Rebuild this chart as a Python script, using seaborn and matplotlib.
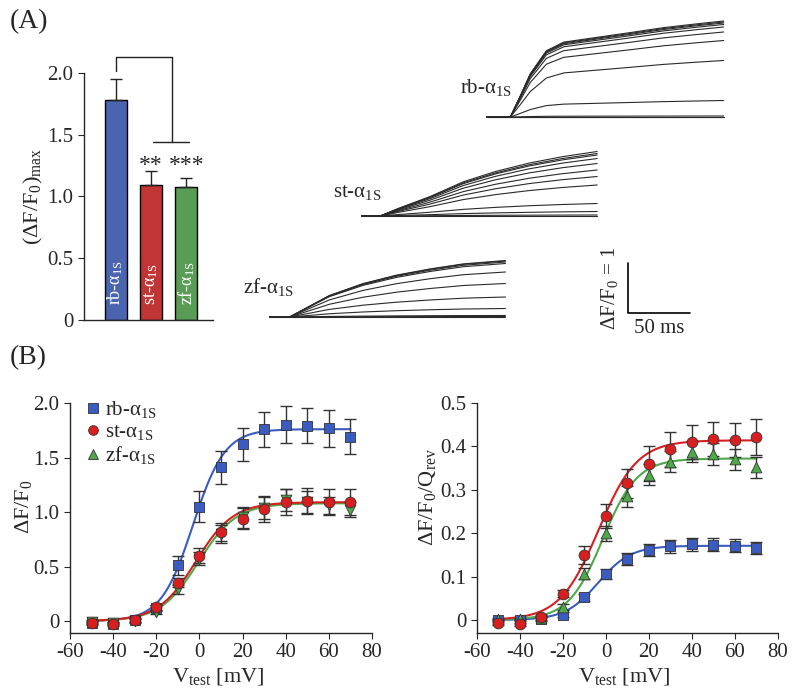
import matplotlib
matplotlib.use('Agg')
import matplotlib.pyplot as plt
import seaborn as sns
import numpy as np
import pandas as pd
from matplotlib.lines import Line2D

# ---- data ----
groups = ["rb", "st", "zf"]
labels = ["rb-α$_{\\mathrm{1S}}$", "st-α$_{\\mathrm{1S}}$", "zf-α$_{\\mathrm{1S}}$"]
colors = ["#3a5cc0", "#d81e1e", "#4fa84a"]

# panel A bars
bar_max = [1.78, 1.09, 1.08]
bar_sem = [0.17, 0.12, 0.07]

# panel A traces: shape of the largest trace (time in ms from trace start) and amplitudes
rb_t = [0, 19, 27, 35, 48, 62, 89, 116, 142, 169, 191]
rb_s = [0, 0, 0.22, 0.45, 0.69, 0.78, 0.83, 0.88, 0.93, 0.97, 1.0]
rb_amp = [0, 0, 0.02, 0.33, 1.13, 1.53, 1.7, 1.8, 1.85, 1.88, 1.9, 1.92]
st_t = [0, 15, 30, 55, 82, 108, 135, 162, 190]
st_s = [0, 0, 0.12, 0.3, 0.53, 0.69, 0.82, 0.92, 1.0]
st_amp = [1.29, 1.25, 1.22, 1.15, 1.05, 0.92, 0.79, 0.62, 0.25, 0.09, 0.02, 0]
zf_t = [0, 16, 48, 75, 102, 129, 156, 190]
zf_s = [0, 0, 0.38, 0.59, 0.74, 0.85, 0.94, 1.0]
zf_amp = [1.13, 1.12, 1.10, 1.07, 0.9, 0.67, 0.4, 0.17, 0.03, 0.01, 0]

# panel B
vtest = [-50, -40, -30, -20, -10, 0, 10, 20, 30, 40, 50, 60, 70]
rb_df = [-0.015, -0.03, 0.01, 0.12, 0.51, 1.05, 1.41, 1.62, 1.76, 1.80, 1.79, 1.77, 1.69]
rb_df_err = [0.02, 0.02, 0.02, 0.03, 0.09, 0.14, 0.15, 0.15, 0.16, 0.17, 0.16, 0.17, 0.16]
st_df = [-0.015, -0.03, 0.01, 0.125, 0.35, 0.6, 0.815, 0.94, 1.03, 1.09, 1.1, 1.09, 1.09]
st_df_err = [0.01, 0.01, 0.02, 0.02, 0.04, 0.07, 0.08, 0.1, 0.12, 0.12, 0.12, 0.12, 0.12]
zf_df = [-0.01, -0.02, 0.0, 0.08, 0.29, 0.57, 0.8, 0.95, 1.04, 1.11, 1.09, 1.06, 1.02]
zf_df_err = [0.01, 0.01, 0.02, 0.02, 0.04, 0.06, 0.08, 0.1, 0.1, 0.1, 0.1, 0.08, 0.07]

rb_q = [0.0, 0.0, 0.002, 0.012, 0.052, 0.106, 0.14, 0.162, 0.17, 0.175, 0.173, 0.171, 0.166]
rb_q_err = [0.003, 0.003, 0.004, 0.006, 0.008, 0.012, 0.014, 0.014, 0.015, 0.015, 0.015, 0.015, 0.014]
st_q = [-0.008, -0.01, 0.008, 0.061, 0.15, 0.24, 0.315, 0.36, 0.393, 0.41, 0.417, 0.415, 0.422]
st_q_err = [0.003, 0.003, 0.004, 0.008, 0.02, 0.027, 0.034, 0.04, 0.04, 0.04, 0.04, 0.04, 0.042]
zf_q = [0.002, 0.002, 0.005, 0.03, 0.107, 0.2, 0.285, 0.335, 0.365, 0.388, 0.382, 0.37, 0.352]
zf_q_err = [0.003, 0.003, 0.004, 0.006, 0.012, 0.017, 0.024, 0.025, 0.025, 0.025, 0.025, 0.024, 0.024]

# Boltzmann fit parameters (Amax, V50, k)
fit_df = {"rb": (1.76, -3.0, 7.4), "st": (1.09, -1.7, 8.7), "zf": (1.08, -0.5, 8.8)}
fit_q = {"rb": (0.171, -3.7, 7.6), "st": (0.414, -3.5, 9.0), "zf": (0.372, -1.5, 8.0)}

# ---- style ----
sns.set_style("ticks")
plt.rcParams['font.family'] = ['Liberation Serif', 'DejaVu Serif']
plt.rcParams['mathtext.fontset'] = 'custom'
plt.rcParams['mathtext.rm'] = 'Liberation Serif'
plt.rcParams['mathtext.it'] = 'Liberation Serif:italic'
plt.rcParams['axes.unicode_minus'] = False
plt.rcParams['axes.linewidth'] = 1.0
plt.rcParams['xtick.major.size'] = 4
plt.rcParams['ytick.major.size'] = 4
plt.rcParams['xtick.direction'] = 'out'
plt.rcParams['ytick.direction'] = 'out'

TICK = 15
LAB = 16

fig = plt.figure(figsize=(8, 6.98), dpi=100)
W, H = 800, 698


def add_ax(x0, y0, x1, y1):
    return fig.add_axes([x0 / W, 1 - y1 / H, (x1 - x0) / W, (y1 - y0) / H])


# ---- (A) bars ----
ax_bar = add_ax(84, 73, 213, 320)
bar_data = pd.DataFrame({"group": groups, "value": bar_max})
sns.barplot(data=bar_data, x="group", y="value", hue="group", palette=colors,
            width=0.62, edgecolor="black", linewidth=1.0, legend=False, ax=ax_bar)
ax_bar.errorbar(range(3), bar_max, yerr=[np.zeros(3), bar_sem], fmt='none',
                ecolor='#222222', elinewidth=1.0, capsize=4, capthick=1.0)
ax_bar.set_xlim(-0.89, 2.75)
ax_bar.set_ylim(0, 2.0)
ax_bar.set_yticks([0, 0.5, 1.0, 1.5, 2.0])
ax_bar.set_yticklabels(["0", "0.5", "1.0", "1.5", "2.0"], fontsize=TICK)
ax_bar.set_xticks([])
ax_bar.set_xlabel("")
ax_bar.set_ylabel("(ΔF/F$_0$)$_{\\mathrm{max}}$", fontsize=LAB)
ax_bar.yaxis.set_label_coords(-0.30, 0.5)
sns.despine(ax=ax_bar)
for i, lab in enumerate(labels):
    ax_bar.text(i, 0.12, lab, rotation=90, color="white", fontsize=13,
                ha="center", va="bottom")
# significance bracket
ax_bar.plot([0, 0, 1.59, 1.59], [2.02, 2.13, 2.13, 1.44], color="#222222", lw=1.0, clip_on=False)
ax_bar.plot([1.05, 2.07], [1.44, 1.44], color="#222222", lw=1.0, clip_on=False)
ax_bar.text(1.0, 1.17, "**", ha="center", va="bottom", fontsize=17)
ax_bar.text(2.0, 1.17, "***", ha="center", va="bottom", fontsize=17)

fig.text(10 / W, 1 - 22 / H, "(A)", fontsize=20, va="center", ha="left")
fig.text(10 / W, 1 - 358 / H, "(B)", fontsize=20, va="center", ha="left")

# ---- (A) traces ----
ax_tr = add_ax(250, 10, 730, 335)
ax_tr.set_xlim(0, 480 / 1.24)
ax_tr.set_ylim(0, 6.5)
ax_tr.axis("off")
trace_sets = [(rb_t, rb_s, rb_amp, 191, 4.36), (st_t, st_s, st_amp, 90, 2.38),
              (zf_t, zf_s, zf_amp, 16, 0.36)]
for t, s, amps, t0, y0 in trace_sets:
    for a in amps:
        sns.lineplot(x=np.array(t) + t0, y=y0 + a * np.array(s), color="#2a2a2a",
                     lw=0.8, ax=ax_tr)
ax_tr.text((512 - 250) / 1.24, (335 - 87) / 50, labels[0], fontsize=15, ha="right", va="center")
ax_tr.text((382 - 250) / 1.24, (335 - 192) / 50, labels[1], fontsize=15, ha="right", va="center")
ax_tr.text((294 - 250) / 1.24, (335 - 287) / 50, labels[2], fontsize=15, ha="right", va="center")
# scale bar
ax_tr.plot([305, 305, 355], [1.44, 0.44, 0.44], color="black", lw=1.2)
ax_tr.text(330, 0.32, "50 ms", fontsize=15, ha="center", va="top")
ax_tr.text(298, 0.94, "ΔF/F$_0$ = 1", fontsize=15, ha="right", va="center", rotation=90)

# ---- (B) ----
def panel_b(ax, series, fits, markers):
    vfit = np.linspace(-50, 70, 300)
    order = [0, 2, 1]
    for i in order:
        amax, v50, k = fits[groups[i]]
        sns.lineplot(x=vfit, y=amax / (1 + np.exp((v50 - vfit) / k)), color=colors[i],
                     lw=1.5, ax=ax, zorder=2)
    for i in order:
        y, e = series[i]
        ax.errorbar(vtest, y, yerr=e, fmt='none', ecolor='#333333', elinewidth=1.0,
                    capsize=4, capthick=1.0, zorder=3)
        sns.scatterplot(x=vtest, y=y, marker=markers[i], color=colors[i], s=60,
                        edgecolor="#333333", linewidth=0.6, ax=ax, zorder=4)
    ax.set_xlim(-60, 80)
    ax.set_xticks(range(-60, 81, 20))
    ax.tick_params(labelsize=TICK)
    ax.set_xlabel("V$_{\\mathrm{test}}$ [mV]", fontsize=LAB)
    ax.xaxis.set_label_coords(0.49, -0.145)
    sns.despine(ax=ax)


ax_l = add_ax(70, 403, 372, 633)
panel_b(ax_l, [(rb_df, rb_df_err), (st_df, st_df_err), (zf_df, zf_df_err)], fit_df, ["s", "o", "v"])
ax_l.set_ylim(-0.11, 2.0)
ax_l.set_yticks([0, 0.5, 1.0, 1.5, 2.0])
ax_l.set_yticklabels(["0", "0.5", "1.0", "1.5", "2.0"])
ax_l.set_ylabel("ΔF/F$_0$", fontsize=LAB)
ax_l.yaxis.set_label_coords(-0.12, 0.55)
handles = [Line2D([], [], ls="none", marker=m, color=c, markersize=7, markeredgecolor="#333333",
                  markeredgewidth=0.6) for m, c in zip(["s", "o", "^"], colors)]
ax_l.legend(handles, labels, loc="upper left", bbox_to_anchor=(0.0, 1.07), frameon=False,
            fontsize=15, handletextpad=0.1, handlelength=1.0, labelspacing=0.1, borderaxespad=0.2)

ax_r = add_ax(477, 403, 778, 633)
panel_b(ax_r, [(rb_q, rb_q_err), (st_q, st_q_err), (zf_q, zf_q_err)], fit_q, ["s", "o", "^"])
ax_r.set_ylim(-0.03, 0.5)
ax_r.set_yticks([0, 0.1, 0.2, 0.3, 0.4, 0.5])
ax_r.set_yticklabels(["0", "0.1", "0.2", "0.3", "0.4", "0.5"])
ax_r.set_ylabel("ΔF/F$_0$/Q$_{\\mathrm{rev}}$", fontsize=LAB)
ax_r.yaxis.set_label_coords(-0.13, 0.59)

fig.savefig("out.png", dpi=100)
